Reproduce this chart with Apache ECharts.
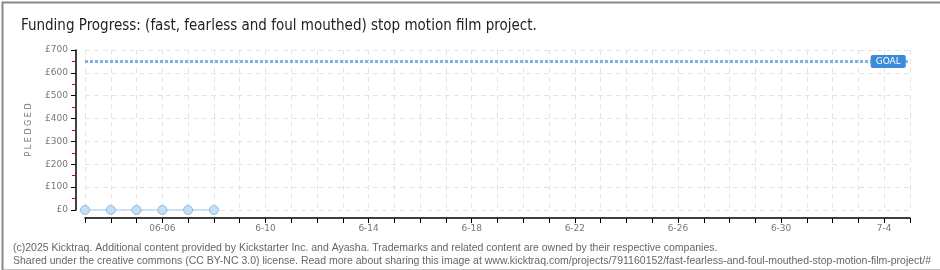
<!DOCTYPE html>
<html>
<head>
<meta charset="utf-8">
<script src="https://cdn.jsdelivr.net/npm/echarts@6/dist/echarts.min.js"></script>
<style>
  html, body { margin: 0; padding: 0; background: #fff; }
  #chart { width: 940px; height: 270px; }
</style>
</head>
<body>
<div id="chart"></div>
<script>
// days shown on the x axis
var days = ['06-03', '06-04', '06-05', '06-06', '06-07', '06-08', '06-09', '06-10',
    '06-11', '06-12', '06-13', '06-14', '06-15', '06-16', '06-17', '06-18',
    '06-19', '06-20', '06-21', '06-22', '06-23', '06-24', '06-25', '06-26',
    '06-27', '06-28', '06-29', '06-30', '07-01', '07-02', '07-03', '07-04', '07-05']

// tick labels, keyed by day
var tick_labels = {
    '06-06': '06-06', '06-10': '6-10', '06-14': '6-14', '06-18': '6-18',
    '06-22': '6-22', '06-26': '6-26', '06-30': '6-30', '07-04': '7-4'
}

// pledged total per day
var pledged = [0, 0, 0, 0, 0, 0]

var goal = 650

var title_text = 'Funding Progress: (fast, fearless and foul mouthed) stop motion film project.'
var footer_lines = [
    '(c)2025 Kicktraq. Additional content provided by Kickstarter Inc. and Ayasha. Trademarks and related content are owned by their respective companies.',
    'Shared under the creative commons (CC BY-NC 3.0) license. Read more about sharing this image at www.kicktraq.com/projects/791160152/fast-fearless-and-foul-mouthed-stop-motion-film-project/#'
]

var chart = echarts.init(document.getElementById('chart'))

var option = {
    animation: false,
    title: [
        {
            text: title_text,
            left: 16,
            top: 14,
            textStyle: {
                fontFamily: 'Liberation Sans Narrow, DejaVu Sans Condensed, sans-serif',
                fontSize: 15,
                fontWeight: 'normal',
                color: '#222'
            }
        },
        {
            text: footer_lines.join('\n'),
            left: 8,
            top: 237,
            textStyle: {
                fontFamily: 'Liberation Sans, sans-serif',
                fontSize: 10.5,
                fontWeight: 'normal',
                color: '#666',
                lineHeight: 13
            }
        }
    ],
    grid: {
        left: 85,
        right: 30,
        top: 50,
        bottom: 60
    },
    xAxis: {
        type: 'category',
        boundaryGap: false,
        data: days,
        offset: 8,
        axisLine: { onZero: false, lineStyle: { color: '#000', width: 1.5 } },
        axisTick: { interval: 0, length: 5, lineStyle: { color: '#000' } },
        axisLabel: {
            interval: function (index, value) { return tick_labels[value] !== undefined },
            formatter: function (value) { return tick_labels[value] || '' },
            color: '#777',
            fontFamily: 'DejaVu Sans, sans-serif',
            fontSize: 9,
            margin: 6
        },
        splitLine: {
            show: true,
            interval: 0,
            lineStyle: { color: '#e4e4e4', type: [5, 4] }
        }
    },
    yAxis: {
        type: 'value',
        min: 0,
        max: 700,
        interval: 100,
        offset: 9,
        name: 'P L E D G E D',
        nameLocation: 'middle',
        nameGap: 43,
        nameTextStyle: {
            color: '#777',
            fontFamily: 'DejaVu Sans, sans-serif',
            fontSize: 8
        },
        axisLine: { show: true, onZero: false, lineStyle: { color: '#000', width: 1.5 } },
        axisTick: { show: true, length: 5, lineStyle: { color: '#000' } },
        minorTick: { show: true, splitNumber: 2, length: 4, lineStyle: { color: '#d00' } },
        axisLabel: {
            formatter: function (v) { return '£' + v },
            color: '#777',
            fontFamily: 'DejaVu Sans, sans-serif',
            fontSize: 9,
            margin: 8
        },
        splitLine: {
            lineStyle: { color: '#e4e4e4', type: [5, 4] }
        }
    },
    series: [
        {
            name: 'Pledged',
            type: 'line',
            data: pledged,
            symbol: 'circle',
            symbolSize: 9,
            lineStyle: { color: '#b8d6f2', width: 1.5 },
            itemStyle: { color: '#c6dff7', borderColor: '#94b8dc', borderWidth: 1 },
            markLine: {
                silent: true,
                symbol: 'none',
                label: { show: false },
                lineStyle: { color: '#7db3e8', width: 3, type: [3, 2] },
                data: [{ yAxis: goal }]
            },
            markPoint: {
                silent: true,
                symbol: 'rect',
                symbolSize: 0,
                label: {
                    show: true,
                    formatter: 'GOAL',
                    color: '#fff',
                    fontFamily: 'DejaVu Sans, sans-serif',
                    fontSize: 9,
                    backgroundColor: '#3b8bdb',
                    borderRadius: 2,
                    padding: [2, 5, 2, 5],
                    offset: [4, 0]
                },
                data: [{ coord: ['07-04', goal] }]
            }
        }
    ],
    graphic: [
        {
            type: 'rect',
            left: 0,
            top: 0,
            shape: { width: 939, height: 268 },
            style: { fill: 'none', stroke: '#888', lineWidth: 2 },
            silent: true
        }
    ]
}

chart.setOption(option)
</script>
</body>
</html>
